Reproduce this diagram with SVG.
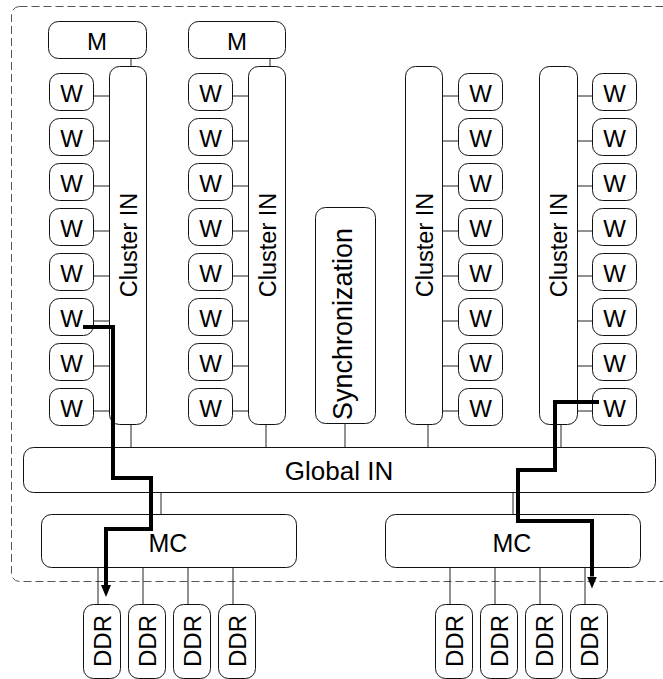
<svg xmlns="http://www.w3.org/2000/svg" width="663" height="679" viewBox="0 0 663 679">
<defs>
<style>
.box{fill:#fff;stroke:#111;stroke-width:1}
.ln{stroke:#222;stroke-width:1;fill:none}
.t{font-family:"Liberation Sans",Arial,sans-serif;fill:#000;text-anchor:middle}
.path{stroke:#000;stroke-width:4;fill:none;stroke-linejoin:miter;stroke-linecap:butt}
</style>
<marker id="ah" markerUnits="userSpaceOnUse" markerWidth="12" markerHeight="10" refX="0" refY="5" orient="auto" viewBox="0 0 12 10">
<path d="M0,0 L12,5 L0,10 z" fill="#000"/>
</marker>
</defs>
<rect x="11.5" y="6.5" width="690" height="575" rx="8" fill="none" stroke="#555" stroke-width="1" stroke-dasharray="8 4"/>

<g id="connectors">
<path class="ln" d="M131,58V66 M270,58V66"/>
<path class="ln" d="M93,96H109 M93,141H109 M93,186H109 M93,231H109 M93,276H109 M93,321H109 M93,366H109 M93,411H109"/>
<path class="ln" d="M232,96H248 M232,141H248 M232,186H248 M232,231H248 M232,276H248 M232,321H248 M232,366H248 M232,411H248"/>
<path class="ln" d="M442,96H458 M442,141H458 M442,186H458 M442,231H458 M442,276H458 M442,321H458 M442,366H458 M442,411H458"/>
<path class="ln" d="M577,96H592 M577,141H592 M577,186H592 M577,231H592 M577,276H592 M577,321H592 M577,366H592 M577,411H592"/>
<path class="ln" d="M131,424V447 M266,424V447 M345,423V447 M428,424V447 M561,424V447"/>
<path class="ln" d="M161,492V514 M513,492V514"/>
<path class="ln" d="M98,567V604 M143,567V604 M188,567V604 M233,567V604"/>
<path class="ln" d="M450,567V604 M495,567V604 M540,567V604 M585,567V604"/>
</g>

<g id="m1"><rect class="box" x="48.5" y="21.5" width="98" height="37" rx="10"/><text class="t" x="97" y="50" font-size="24">M</text></g>
<g id="m2"><rect class="box" x="188.5" y="21.5" width="97" height="37" rx="10"/><text class="t" x="237" y="50" font-size="24">M</text></g>

<g id="cluster1"><rect class="box" x="109.5" y="66.5" width="37" height="358" rx="10"/><text class="t" font-size="23.5" transform="translate(128,245) rotate(-90)" y="9">Cluster IN</text></g>
<g id="cluster2"><rect class="box" x="248.5" y="66.5" width="37" height="358" rx="10"/><text class="t" font-size="23.5" transform="translate(267,245) rotate(-90)" y="9">Cluster IN</text></g>
<g id="cluster3"><rect class="box" x="405.5" y="66.5" width="37" height="358" rx="10"/><text class="t" font-size="23.5" transform="translate(424,245) rotate(-90)" y="9">Cluster IN</text></g>
<g id="cluster4"><rect class="box" x="539.5" y="66.5" width="38" height="358" rx="10"/><text class="t" font-size="23.5" transform="translate(558,245) rotate(-90)" y="9">Cluster IN</text></g>

<g id="sync"><rect class="box" x="315.5" y="207.5" width="60" height="216" rx="10"/><text class="t" font-size="27" transform="translate(343,324) rotate(-90)" y="9">Synchronization</text></g>

<g id="w-col1">
<g id="w1-1"><rect class="box" x="49.5" y="73.5" width="44" height="37" rx="10"/><text class="t" x="71.5" y="101.5" font-size="24">W</text></g>
<g id="w1-2"><rect class="box" x="49.5" y="118.5" width="44" height="37" rx="10"/><text class="t" x="71.5" y="146.5" font-size="24">W</text></g>
<g id="w1-3"><rect class="box" x="49.5" y="163.5" width="44" height="37" rx="10"/><text class="t" x="71.5" y="191.5" font-size="24">W</text></g>
<g id="w1-4"><rect class="box" x="49.5" y="208.5" width="44" height="37" rx="10"/><text class="t" x="71.5" y="236.5" font-size="24">W</text></g>
<g id="w1-5"><rect class="box" x="49.5" y="253.5" width="44" height="37" rx="10"/><text class="t" x="71.5" y="281.5" font-size="24">W</text></g>
<g id="w1-6"><rect class="box" x="49.5" y="298.5" width="44" height="37" rx="10"/><text class="t" x="71.5" y="326.5" font-size="24">W</text></g>
<g id="w1-7"><rect class="box" x="49.5" y="343.5" width="44" height="37" rx="10"/><text class="t" x="71.5" y="371.5" font-size="24">W</text></g>
<g id="w1-8"><rect class="box" x="49.5" y="388.5" width="44" height="37" rx="10"/><text class="t" x="71.5" y="416.5" font-size="24">W</text></g>
</g>
<g id="w-col2">
<g id="w2-1"><rect class="box" x="188.5" y="73.5" width="44" height="37" rx="10"/><text class="t" x="210.5" y="101.5" font-size="24">W</text></g>
<g id="w2-2"><rect class="box" x="188.5" y="118.5" width="44" height="37" rx="10"/><text class="t" x="210.5" y="146.5" font-size="24">W</text></g>
<g id="w2-3"><rect class="box" x="188.5" y="163.5" width="44" height="37" rx="10"/><text class="t" x="210.5" y="191.5" font-size="24">W</text></g>
<g id="w2-4"><rect class="box" x="188.5" y="208.5" width="44" height="37" rx="10"/><text class="t" x="210.5" y="236.5" font-size="24">W</text></g>
<g id="w2-5"><rect class="box" x="188.5" y="253.5" width="44" height="37" rx="10"/><text class="t" x="210.5" y="281.5" font-size="24">W</text></g>
<g id="w2-6"><rect class="box" x="188.5" y="298.5" width="44" height="37" rx="10"/><text class="t" x="210.5" y="326.5" font-size="24">W</text></g>
<g id="w2-7"><rect class="box" x="188.5" y="343.5" width="44" height="37" rx="10"/><text class="t" x="210.5" y="371.5" font-size="24">W</text></g>
<g id="w2-8"><rect class="box" x="188.5" y="388.5" width="44" height="37" rx="10"/><text class="t" x="210.5" y="416.5" font-size="24">W</text></g>
</g>
<g id="w-col3">
<g id="w3-1"><rect class="box" x="458.5" y="73.5" width="44" height="37" rx="10"/><text class="t" x="480.5" y="101.5" font-size="24">W</text></g>
<g id="w3-2"><rect class="box" x="458.5" y="118.5" width="44" height="37" rx="10"/><text class="t" x="480.5" y="146.5" font-size="24">W</text></g>
<g id="w3-3"><rect class="box" x="458.5" y="163.5" width="44" height="37" rx="10"/><text class="t" x="480.5" y="191.5" font-size="24">W</text></g>
<g id="w3-4"><rect class="box" x="458.5" y="208.5" width="44" height="37" rx="10"/><text class="t" x="480.5" y="236.5" font-size="24">W</text></g>
<g id="w3-5"><rect class="box" x="458.5" y="253.5" width="44" height="37" rx="10"/><text class="t" x="480.5" y="281.5" font-size="24">W</text></g>
<g id="w3-6"><rect class="box" x="458.5" y="298.5" width="44" height="37" rx="10"/><text class="t" x="480.5" y="326.5" font-size="24">W</text></g>
<g id="w3-7"><rect class="box" x="458.5" y="343.5" width="44" height="37" rx="10"/><text class="t" x="480.5" y="371.5" font-size="24">W</text></g>
<g id="w3-8"><rect class="box" x="458.5" y="388.5" width="44" height="37" rx="10"/><text class="t" x="480.5" y="416.5" font-size="24">W</text></g>
</g>
<g id="w-col4">
<g id="w4-1"><rect class="box" x="592.5" y="73.5" width="44" height="37" rx="10"/><text class="t" x="614.5" y="101.5" font-size="24">W</text></g>
<g id="w4-2"><rect class="box" x="592.5" y="118.5" width="44" height="37" rx="10"/><text class="t" x="614.5" y="146.5" font-size="24">W</text></g>
<g id="w4-3"><rect class="box" x="592.5" y="163.5" width="44" height="37" rx="10"/><text class="t" x="614.5" y="191.5" font-size="24">W</text></g>
<g id="w4-4"><rect class="box" x="592.5" y="208.5" width="44" height="37" rx="10"/><text class="t" x="614.5" y="236.5" font-size="24">W</text></g>
<g id="w4-5"><rect class="box" x="592.5" y="253.5" width="44" height="37" rx="10"/><text class="t" x="614.5" y="281.5" font-size="24">W</text></g>
<g id="w4-6"><rect class="box" x="592.5" y="298.5" width="44" height="37" rx="10"/><text class="t" x="614.5" y="326.5" font-size="24">W</text></g>
<g id="w4-7"><rect class="box" x="592.5" y="343.5" width="44" height="37" rx="10"/><text class="t" x="614.5" y="371.5" font-size="24">W</text></g>
<g id="w4-8"><rect class="box" x="592.5" y="388.5" width="44" height="37" rx="10"/><text class="t" x="614.5" y="416.5" font-size="24">W</text></g>
</g>

<g id="global-in"><rect class="box" x="23.5" y="447.5" width="632" height="45" rx="10"/><text class="t" x="339" y="480" font-size="26">Global IN</text></g>

<g id="mc1"><rect class="box" x="41.5" y="514.5" width="255" height="53" rx="10"/><text class="t" x="168" y="551.5" font-size="25">MC</text></g>
<g id="mc2"><rect class="box" x="385.5" y="514.5" width="255" height="53" rx="10"/><text class="t" x="512" y="551.5" font-size="25">MC</text></g>

<g id="ddr1"><rect class="box" x="83.5" y="604.5" width="37" height="74" rx="10"/><text class="t" font-size="24" transform="translate(102,641) rotate(-90)" y="9">DDR</text></g>
<g id="ddr2"><rect class="box" x="128.5" y="604.5" width="37" height="74" rx="10"/><text class="t" font-size="24" transform="translate(147,641) rotate(-90)" y="9">DDR</text></g>
<g id="ddr3"><rect class="box" x="173.5" y="604.5" width="37" height="74" rx="10"/><text class="t" font-size="24" transform="translate(192,641) rotate(-90)" y="9">DDR</text></g>
<g id="ddr4"><rect class="box" x="218.5" y="604.5" width="37" height="74" rx="10"/><text class="t" font-size="24" transform="translate(237,641) rotate(-90)" y="9">DDR</text></g>
<g id="ddr5"><rect class="box" x="435.5" y="604.5" width="37" height="74" rx="10"/><text class="t" font-size="24" transform="translate(454,641) rotate(-90)" y="9">DDR</text></g>
<g id="ddr6"><rect class="box" x="480.5" y="604.5" width="37" height="74" rx="10"/><text class="t" font-size="24" transform="translate(499,641) rotate(-90)" y="9">DDR</text></g>
<g id="ddr7"><rect class="box" x="525.5" y="604.5" width="37" height="74" rx="10"/><text class="t" font-size="24" transform="translate(544,641) rotate(-90)" y="9">DDR</text></g>
<g id="ddr8"><rect class="box" x="570.5" y="604.5" width="37" height="74" rx="10"/><text class="t" font-size="24" transform="translate(589,641) rotate(-90)" y="9">DDR</text></g>

<g id="paths">
<path class="path" d="M83,327H113V478H151V529H106V585" marker-end="url(#ah)"/>
<path class="path" d="M599,402H555V470H518V521H592V576.5" marker-end="url(#ah)"/>
</g>
</svg>
